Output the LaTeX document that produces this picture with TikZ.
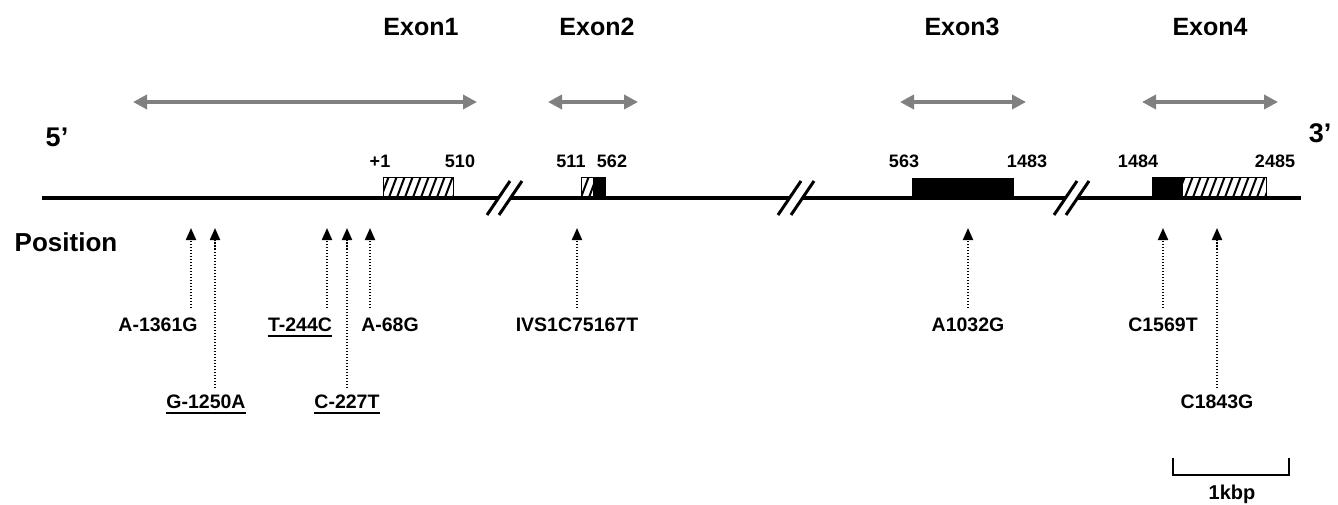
\documentclass[tikz,border=0pt]{standalone}
\usepackage{fontspec}
\setmainfont{Liberation Sans}
\usetikzlibrary{arrows.meta}
\definecolor{spangray}{HTML}{808080}
\begin{document}
\begin{tikzpicture}[x=1pt,y=-1pt,
  exonlab/.style={font=\bfseries\fontsize{25}{25}\selectfont, inner sep=0},
  numlab/.style={font=\bfseries\fontsize{18}{18}\selectfont, inner sep=0},
  mutlab/.style={font=\bfseries\fontsize{19.5}{19.5}\selectfont, inner sep=0},
  endlab/.style={font=\bfseries\fontsize{27}{27}\selectfont, inner sep=0},
  gene/.style={line width=4.5pt},
  brk/.style={line width=3pt},
  span/.style={draw=spangray, line width=4pt, {Triangle[length=14pt,width=14pt]}-{Triangle[length=14pt,width=14pt]}},
  snp/.style={line width=2pt, dash pattern=on 1.5pt off 1.5pt, -{Triangle[length=12pt,width=10pt]}},
  ul/.style={line width=1.5pt},
  boxline/.style={line width=1pt},
  hatch/.style={line width=2pt}
]
\useasboundingbox (0,0) rectangle (1338,505);

% exon labels and spans
\node[exonlab] (ex1) at (421,27) {Exon1};
\node[exonlab] (ex2) at (597,27) {Exon2};
\node[exonlab] (ex3) at (962,27) {Exon3};
\node[exonlab] (ex4) at (1210,27) {Exon4};
\coordinate (s1a) at (133,102); \coordinate (s1b) at (477,102);
\coordinate (s2a) at (548,102); \coordinate (s2b) at (638,102);
\coordinate (s3a) at (900,102); \coordinate (s3b) at (1026,102);
\coordinate (s4a) at (1142,102); \coordinate (s4b) at (1278,102);
\draw[span] (s1a) -- (s1b);
\draw[span] (s2a) -- (s2b);
\draw[span] (s3a) -- (s3b);
\draw[span] (s4a) -- (s4b);

% ends
\node[endlab] (p5) at (57,137) {5’};
\node[endlab] (p3) at (1320,133) {3’};
\node[font=\bfseries\fontsize{26}{26}\selectfont, inner sep=0] (pos) at (66,242) {Position};

% exon boxes
% Exon 1 (hatched)
\begin{scope}
  \clip (383,178) rectangle (453,198);
  \foreach \i in {372,380,...,460} \draw[hatch] (\i,200) -- (\i+9,176);
\end{scope}
\draw[boxline] (383,198) -- (383,178) -- (453,178) -- (453,198);
% Exon 2
\begin{scope}
  \clip (581,178) rectangle (593,198);
  \foreach \i in {572,580,...,596} \draw[hatch] (\i,200) -- (\i+9,176);
\end{scope}
\fill (593,178) rectangle (605,198);
\draw[boxline] (581,198) -- (581,178) -- (605,178) -- (605,198);
% Exon 3
\fill (912,178) rectangle (1014,198);
% Exon 4
\fill (1152,178) rectangle (1183,198);
\begin{scope}
  \clip (1183,178) rectangle (1266,198);
  \foreach \i in {1176,1184,...,1270} \draw[hatch] (\i,200) -- (\i+9,176);
\end{scope}
\draw[boxline] (1152,198) -- (1152,178) -- (1266,178) -- (1266,198);

% position numbers
\node[numlab] (n1) at (380,161) {+1};
\node[numlab] (n510) at (460,161) {510};
\node[numlab] (n511) at (571,161) {511};
\node[numlab] (n562) at (612,161) {562};
\node[numlab] (n563) at (904,161) {563};
\node[numlab] (n1483) at (1027,161) {1483};
\node[numlab] (n1484) at (1138,161) {1484};
\node[numlab] (n2485) at (1275,161) {2485};

% gene line with breaks
\coordinate (g0) at (42,198);
\coordinate (g1) at (498.5,198); \coordinate (g2) at (510,198);
\coordinate (g3) at (790,198); \coordinate (g4) at (803,198);
\coordinate (g5) at (1066,198); \coordinate (g6) at (1078,198);
\coordinate (g7) at (1301,198);
\draw[gene] (g0) -- (g1);
\draw[gene] (g2) -- (g3);
\draw[gene] (g4) -- (g5);
\draw[gene] (g6) -- (g7);
\draw[brk] (487,215) -- (510,181);
\draw[brk] (499,215) -- (522,181);
\draw[brk] (778,215) -- (801,181);
\draw[brk] (791,215) -- (814,181);
\draw[brk] (1054,215) -- (1077,181);
\draw[brk] (1066,215) -- (1089,181);

% mutation labels
\node[mutlab] (m1) at (158,325) {A-1361G};
\node[mutlab] (m2) at (206,402) {G-1250A};
\node[mutlab] (m3) at (300,325) {T-244C};
\node[mutlab] (m4) at (347,402) {C-227T};
\node[mutlab] (m5) at (390,325) {A-68G};
\node[mutlab] (m6) at (577,325) {IVS1C75167T};
\node[mutlab] (m7) at (968,325) {A1032G};
\node[mutlab] (m8) at (1163,325) {C1569T};
\node[mutlab] (m9) at (1217,402) {C1843G};
\draw[ul] ([yshift=-4pt]m2.south west) -- ([yshift=-4pt]m2.south east);
\draw[ul] ([yshift=-4pt]m3.south west) -- ([yshift=-4pt]m3.south east);
\draw[ul] ([yshift=-4pt]m4.south west) -- ([yshift=-4pt]m4.south east);

% mutation arrows
\foreach \x/\y [count=\k] in {191/308,215/388,327/308,347/388,370/308,577/308,968/308,1163/308,1217/388}{
  \coordinate (b\k) at (\x,\y);
  \coordinate (t\k) at (\x,228);
  \draw[snp] (b\k) -- (t\k);
}

% scale bar
\coordinate (sb1) at (1173,458); \coordinate (sb2) at (1289,458);
\draw[line width=1.5pt] (sb1) -- (1173,475) -- (1289,475) -- (sb2);
\node[font=\bfseries\fontsize{20}{20}\selectfont, inner sep=0] (kbp) at (1232,494) {1kbp};
\end{tikzpicture}
\end{document}
